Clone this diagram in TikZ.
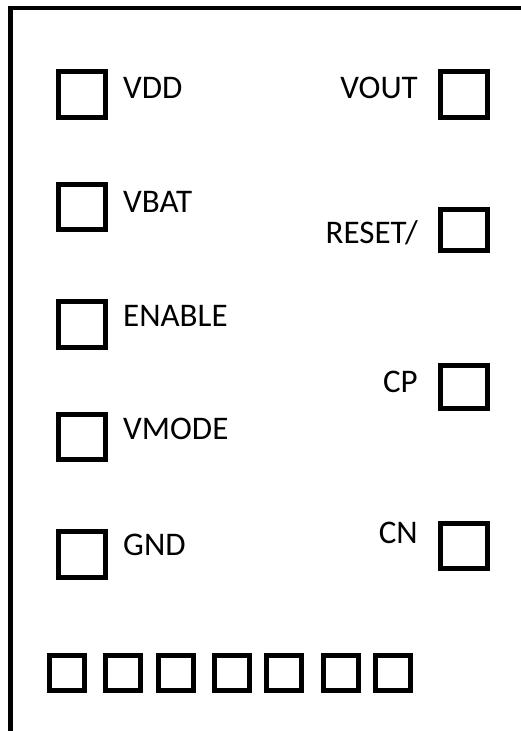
\documentclass[tikz,border=0pt]{standalone}
\usepackage{fontspec}
\setmainfont{Carlito}
\begin{document}
\begin{tikzpicture}[x=1pt,y=-1pt,
  pinbox/.style={draw=black,line width=5pt,inner sep=0pt,minimum width=47pt,minimum height=46pt},
  smallbox/.style={draw=black,line width=5pt,inner sep=0pt,minimum width=35pt,minimum height=35pt},
  lbl/.style={inner sep=0pt,font=\fontsize{33}{40}\selectfont}]
\useasboundingbox (0,0) rectangle (520,731);
\fill[white] (0,0) rectangle (520,731);
% frame
\draw[line width=4.5pt,line join=miter] (10.5,735) -- (10.5,8) -- (525,8);
% left pins
\node[pinbox] (bvdd) at (82,94) {};
\node[pinbox,minimum height=45pt] (bvbat) at (82,207) {};
\node[pinbox] (benable) at (82,324.5) {};
\node[pinbox,minimum height=45pt] (bvmode) at (82,437) {};
\node[pinbox] (bgnd) at (82,554.5) {};
\node[lbl,anchor=base west] (tvdd) at (123,98) {VDD};
\node[lbl,anchor=base west] (tvbat) at (123,212) {VBAT};
\node[lbl,anchor=base west] (tenable) at (123,326) {ENABLE};
\node[lbl,anchor=base west] (tvmode) at (123,439) {VMODE};
\node[lbl,anchor=base west] (tgnd) at (123,555) {GND};
% right pins
\node[pinbox] (bvout) at (464,94) {};
\node[pinbox,minimum height=41pt] (breset) at (464,230) {};
\node[pinbox,minimum height=43pt] (bcp) at (464,387) {};
\node[pinbox,minimum height=45pt] (bcn) at (464,546) {};
\node[lbl,anchor=base east] (tvout) at (418,98) {VOUT};
\node[lbl,anchor=base east] (treset) at (418,243) {RESET/};
\node[lbl,anchor=base east] (tcp) at (418,392) {CP};
\node[lbl,anchor=base east] (tcn) at (418,543) {CN};
% bottom row
\node[smallbox] (s1) at (66.5,673) {};
\node[smallbox] (s2) at (123,673) {};
\node[smallbox] (s3) at (175.5,673) {};
\node[smallbox] (s4) at (231.5,673) {};
\node[smallbox] (s5) at (283.5,673) {};
\node[smallbox] (s6) at (340.5,673) {};
\node[smallbox] (s7) at (392.5,673) {};
\end{tikzpicture}
\end{document}
